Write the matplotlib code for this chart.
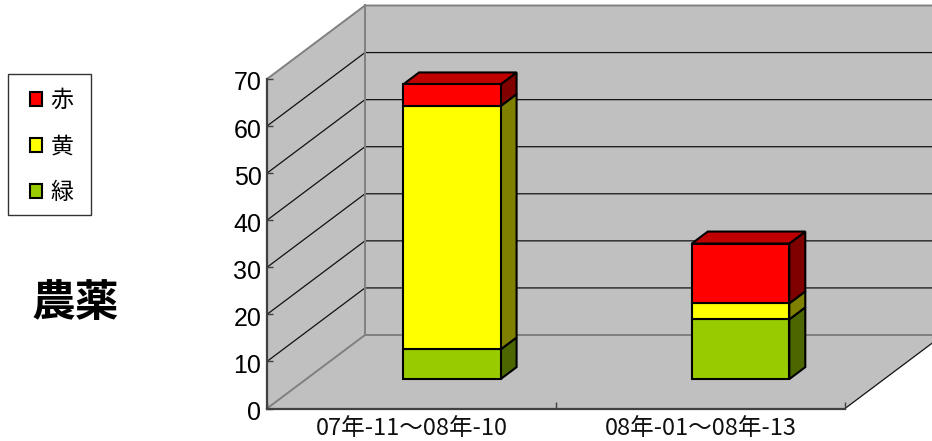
import matplotlib
matplotlib.use('Agg')
from matplotlib import pyplot as plt
from matplotlib.patches import Polygon, Rectangle
from matplotlib.transforms import ScaledTranslation

plt.rcParams['font.family'] = ['Noto Sans CJK JP', 'DejaVu Sans']

categories = ['07年-11～08年-10', '08年-01～08年-13']
green = [6.3, 12.7]
yellow = [51.7, 3.4]
red = [4.6, 12.7]
yticks = [0, 10, 20, 30, 40, 50, 60, 70]

W, H = 932, 441
fig = plt.figure(figsize=(W / 100, H / 100), dpi=100)
ax = fig.add_axes([267 / W, 1 - 408.5 / H, 578 / W, 329.5 / H])
ax.set_xlim(0, 2)
ax.set_ylim(0, 70)

# depth vector of the box, in data units
dep_x = 98 / 289.
dep_y = 73.5 / (329.5 / 70)


def poly(pts, fc, ec='none', lw=0, z=1):
    ax.add_patch(Polygon(pts, closed=True, fc=fc, ec=ec, lw=lw, zorder=z, clip_on=False))


# walls and floor
poly([(0, 0), (dep_x, dep_y), (2 + dep_x, dep_y), (2, 0)], '#c0c0c0', z=1.2)
poly([(dep_x, dep_y), (dep_x, 70 + dep_y), (2 + dep_x, 70 + dep_y), (2 + dep_x, dep_y)], '#c0c0c0')
poly([(0, 0), (0, 70), (dep_x, 70 + dep_y), (dep_x, dep_y)], '#c0c0c0')

for v in yticks[1:-1]:
    ax.plot([0, dep_x, 2 + dep_x], [v, v + dep_y, v + dep_y], color='#111111', lw=0.9, zorder=1.1, clip_on=False)
ax.plot([0, dep_x, 2 + dep_x], [70, 70 + dep_y, 70 + dep_y], color='#808080', lw=1.4, zorder=1.3, clip_on=False)
ax.plot([dep_x, dep_x], [0 + dep_y, 70 + dep_y], color='#808080', lw=1.4, zorder=1.3, clip_on=False)
ax.plot([0, dep_x, 2 + dep_x], [0, dep_y, dep_y], color='#808080', lw=1.4, zorder=1.3, clip_on=False)
ax.plot([2, 2 + dep_x], [0, dep_y], color='#111111', lw=0.9, zorder=1.3, clip_on=False)

# bars sit inside the box, between d0 and d1 of the depth
d0, d1 = 0.40, 0.563
width = 97.5 / 289.
pos = [0.5 + d0 * dep_x + 0.004, 1.5 + d0 * dep_x + 0.003]
sx = (d1 - d0) * dep_x
sy = (d1 - d0) * dep_y
base = d0 * dep_y

series = [('緑', green, '#99cc00', '#4c6600'),
          ('黄', yellow, '#ffff00', '#808000'),
          ('赤', red, '#ff0000', '#800000')]
handles = []
for i, x in enumerate(pos):
    bottom = base
    for name, vals, col, side in series:
        v = vals[i]
        r = x + width / 2
        poly([(r, bottom), (r + sx, bottom + sy), (r + sx, bottom + v + sy), (r, bottom + v)],
             side, 'black', 1.5, 3)
        b = ax.bar(x, v, width, bottom=bottom, color=col, edgecolor='black', linewidth=1.5,
                   zorder=4, clip_on=False, label=name)
        if i == 0:
            handles.append(b)
        bottom += v
    l = x - width / 2
    poly([(l, bottom), (l + sx, bottom + sy), (l + width + sx, bottom + sy), (l + width, bottom)],
         '#c00000', 'black', 1.5, 3)

# axes
for s in ['top', 'right']:
    ax.spines[s].set_visible(False)
for s in ['left', 'bottom']:
    ax.spines[s].set_color('#404040')
    ax.spines[s].set_linewidth(1.6)
    ax.spines[s].set_zorder(2)
ax.patch.set_visible(False)
ax.set_yticks(yticks)
ax.tick_params(axis='y', direction='in', length=4, width=1, color='#404040', labelsize=18, pad=4)
shift = ScaledTranslation(0, -2 / 100, fig.dpi_scale_trans)
for t in ax.get_yticklabels():
    t.set_fontfamily(['Liberation Sans', 'DejaVu Sans'])
    t.set_transform(t.get_transform() + shift)
ax.set_xticks([0, 1, 2])
ax.set_xticklabels([])
ax.set_xticks([0.5, 1.5], minor=True)
ax.set_xticklabels(categories, minor=True, fontsize=17, color='#111111')
ax.tick_params(axis='x', which='major', direction='in', length=5, width=1, color='#404040')
ax.tick_params(axis='x', which='minor', length=0, pad=6)

# legend frame is drawn apart, its margins are not equal
fig.add_artist(Rectangle((7.5 / W, 1 - 215 / H), 83.5 / W, 141 / H, transform=fig.transFigure,
                         fc='white', ec='#333333', lw=1))
leg = fig.legend(handles[::-1], ['赤', '黄', '緑'], loc='upper left',
                 bbox_to_anchor=(15.5 / W, 1 - 75 / H), borderaxespad=0, frameon=False,
                 fontsize=16.5, handlelength=0.55,
                 handleheight=0.55, handletextpad=0.35, labelspacing=1.0, borderpad=0.62)

fig.text(75 / W, 1 - 303 / H, '農薬', fontsize=31.5, fontweight='bold', ha='center', va='center')

fig.savefig('out.png', dpi=100)
